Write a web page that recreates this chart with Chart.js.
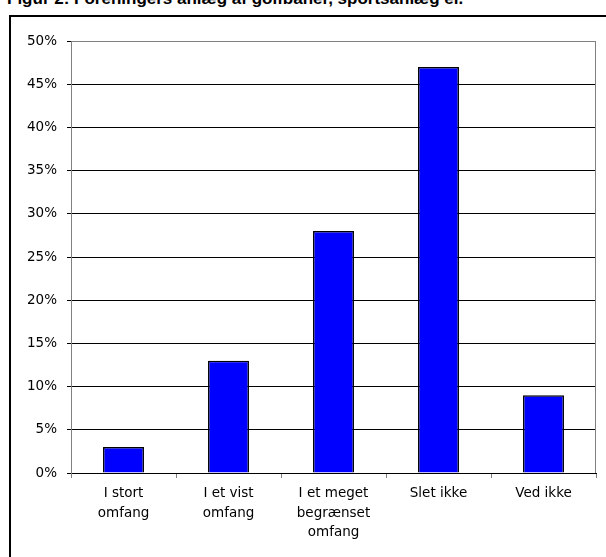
<!DOCTYPE html>
<html>
<head>
<meta charset="utf-8">
<script src="https://cdn.jsdelivr.net/npm/chart.js@4"></script>
<style>
  html, body { margin: 0; padding: 0; background: #fff; width: 606px; height: 557px; overflow: hidden; }
  #title { position: absolute; left: 7px; top: -11px; font: bold 17px "Liberation Sans", Arial, sans-serif; line-height: 19px; color: #000; white-space: nowrap; }
  #frame { position: absolute; left: 9px; top: 15px; width: 700px; height: 700px; border: 2px solid #000; box-sizing: border-box; }
  #c { position: absolute; left: 0; top: 0; }
</style>
</head>
<body>
<div id="title">Figur 2: Foreningers anlæg af golfbaner, sportsanlæg el.</div>
<div id="frame"></div>
<canvas id="c" width="606" height="557"></canvas>
<script>
const categories = [["I stort", "omfang"], ["I et vist", "omfang"], ["I et meget", "begrænset", "omfang"], ["Slet ikke"], ["Ved ikke"]];
const values = [3, 13, 28, 47, 9];
const yTicks = [0, 5, 10, 15, 20, 25, 30, 35, 40, 45, 50];

const borderPlugin = {
  id: 'borderPlugin',
  afterDraw(chart) {
    const a = chart.chartArea, ctx = chart.ctx;
    ctx.save();
    ctx.strokeStyle = '#808080';
    ctx.lineWidth = 1;
    ctx.beginPath();
    ctx.moveTo(a.left, a.top + 0.5);
    ctx.lineTo(a.right - 0.5, a.top + 0.5);
    ctx.lineTo(a.right - 0.5, a.bottom);
    ctx.stroke();
    ctx.restore();
  }
};

new Chart(document.getElementById('c'), {
  type: 'bar',
  data: {
    labels: categories,
    datasets: [{
      data: values,
      backgroundColor: '#0000FF',
      borderColor: '#000000',
      borderWidth: 1.5,
      barPercentage: 0.39,
      categoryPercentage: 1
    }]
  },
  options: {
    responsive: false,
    animation: false,
    devicePixelRatio: 1,
    layout: { padding: { left: 0, top: 41, right: 10, bottom: 0 } },
    plugins: { legend: { display: false }, tooltip: { enabled: false } },
    scales: {
      x: {
        afterFit(s) { s.height = 84; },
        grid: { display: true, drawOnChartArea: false, drawTicks: true, tickLength: 5, color: '#808080', offset: true },
        border: { display: true, color: '#000000', width: 1 },
        ticks: { color: '#000', font: { family: 'DejaVu Sans', size: 13.5, lineHeight: 1.45 }, padding: 6, maxRotation: 0, autoSkip: false }
      },
      y: {
        min: 0, max: 50,
        afterFit(s) { s.width = 71; },
        afterBuildTicks(s) { s.ticks = yTicks.map(v => ({ value: v })); },
        grid: {
          color: ctx => (ctx.tick && ctx.tick.value === 50) ? '#808080' : '#000000',
          lineWidth: 1,
          tickLength: 4,
          tickColor: '#000000'
        },
        border: { display: true, color: '#808080', width: 1 },
        ticks: { color: '#000', font: { family: 'DejaVu Sans', size: 13.5 }, padding: 10, callback: v => v + '%' }
      }
    }
  },
  plugins: [borderPlugin]
});
</script>
</body>
</html>
